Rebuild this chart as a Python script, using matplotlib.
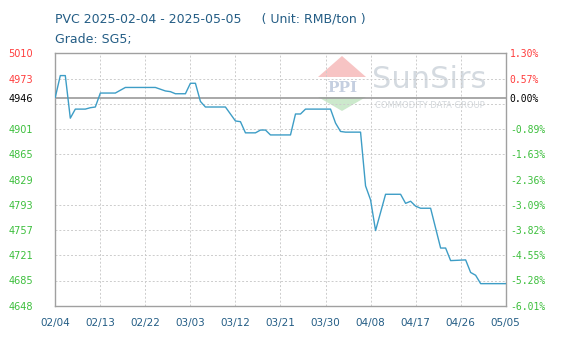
import numpy as np
import matplotlib
matplotlib.use("Agg")
import matplotlib.pyplot as plt
from matplotlib.patches import Polygon

# price series (RMB/ton)
DATES = ["2025-02-04", "2025-02-05", "2025-02-06", "2025-02-07", "2025-02-08",
         "2025-02-10", "2025-02-11", "2025-02-12", "2025-02-13", "2025-02-16",
         "2025-02-18", "2025-02-24", "2025-02-26", "2025-02-27", "2025-02-28",
         "2025-03-02", "2025-03-03", "2025-03-04", "2025-03-05", "2025-03-06",
         "2025-03-10", "2025-03-12", "2025-03-13", "2025-03-14", "2025-03-16",
         "2025-03-17", "2025-03-18", "2025-03-19", "2025-03-23", "2025-03-24",
         "2025-03-25", "2025-03-26", "2025-03-31", "2025-04-01", "2025-04-02",
         "2025-04-03", "2025-04-06", "2025-04-07", "2025-04-08", "2025-04-09",
         "2025-04-11", "2025-04-14", "2025-04-15", "2025-04-16", "2025-04-17",
         "2025-04-18", "2025-04-20", "2025-04-22", "2025-04-23", "2025-04-24",
         "2025-04-27", "2025-04-28", "2025-04-29", "2025-04-30", "2025-05-05"]
PRICES = [4947, 4978, 4978, 4917, 4930,
          4930, 4932, 4933, 4953, 4953,
          4961, 4961, 4956, 4955, 4952,
          4952, 4967, 4967, 4941, 4933,
          4933, 4913, 4912, 4896, 4896,
          4900, 4900, 4893, 4893, 4923,
          4923, 4930, 4930, 4910, 4898,
          4897, 4897, 4820, 4800, 4756,
          4808, 4808, 4795, 4798, 4791,
          4788, 4788, 4731, 4731, 4713,
          4714, 4696, 4692, 4680, 4680]

BASE = 4946
Y_MIN, Y_MAX = 4648, 5010
LEFT_LABELS = ["5010", "4973", "4946", "4901", "4865", "4829",
               "4793", "4757", "4721", "4685", "4648"]
RIGHT_LABELS = ["1.30%", "0.57%", "0.00%", "-0.89%", "-1.63%", "-2.36%",
                "-3.09%", "-3.82%", "-4.55%", "-5.28%", "-6.01%"]
X_TICKS = ["2025-02-04", "2025-02-13", "2025-02-22", "2025-03-03",
           "2025-03-12", "2025-03-21", "2025-03-30", "2025-04-08",
           "2025-04-17", "2025-04-26", "2025-05-05"]
X_LABELS = ["02/04", "02/13", "02/22", "03/03", "03/12", "03/21",
            "03/30", "04/08", "04/17", "04/26", "05/05"]

RED = "#ff3c3c"
GREEN = "#3cbf3c"
BLUE_TXT = "#245d85"
LINE = "#3d9dc6"
EDGE = "#a0a0a0"

dates = np.array(DATES, dtype="datetime64[D]")
xticks = np.array(X_TICKS, dtype="datetime64[D]")

fig = plt.figure(figsize=(5.73, 3.42), dpi=100)
ax = fig.add_axes([0.0965, 0.1053, 0.786, 0.739])

ax.set_xlim(xticks[0], xticks[-1])
ax.set_ylim(Y_MIN, Y_MAX)

# dashed grid, evenly spaced
ax.set_yticks(np.linspace(Y_MIN, Y_MAX, 11), minor=True)
ax.set_xticks(xticks)
ax.set_xticklabels(X_LABELS, fontsize=7.5, color=BLUE_TXT)
ax.grid(True, which="minor", axis="y", ls=(0, (2, 2)), lw=0.7, color="#cccccc")
ax.grid(True, which="major", axis="x", ls=(0, (2, 2)), lw=0.7, color="#cccccc")
ax.tick_params(axis="x", length=0, pad=9)
ax.tick_params(axis="y", which="both", length=0)

yt = [float(v) for v in LEFT_LABELS]
ax.set_yticks(yt)
ax.set_yticklabels(LEFT_LABELS, fontsize=7)
ax.tick_params(axis="y", pad=16)

def colour_for(v):
    if v > BASE:
        return RED
    if v < BASE:
        return GREEN
    return "black"

for lab, v in zip(ax.get_yticklabels(), yt):
    lab.set_color(colour_for(v))

for sp in ax.spines.values():
    sp.set_color(EDGE)
    sp.set_linewidth(1.0)

ax2 = ax.twinx()
ax2.set_ylim(Y_MIN, Y_MAX)
ax2.set_yticks(yt)
ax2.set_yticklabels(RIGHT_LABELS, fontsize=7, family="DejaVu Sans Mono")
ax2.tick_params(axis="y", length=0, pad=3)
for lab, v in zip(ax2.get_yticklabels(), yt):
    lab.set_color(colour_for(v))
for sp in ax2.spines.values():
    sp.set_visible(False)

# watermark (kept under grid and line)
wm = dict(transform=fig.transFigure, zorder=0.5)
def fx(px):
    return px / 573.0
def fy(py):
    return 1 - py / 342.0
ax.add_patch(Polygon([(fx(318), fy(77)), (fx(342), fy(56)), (fx(366), fy(77))],
                     closed=True, color="#f08a8a", alpha=0.5, lw=0, **wm))
ax.add_patch(Polygon([(fx(318), fy(97)), (fx(366), fy(97)), (fx(342), fy(111))],
                     closed=True, color="#8fd08f", alpha=0.45, lw=0, **wm))
ax.text(fx(342), fy(88), "PPI", ha="center", va="center", fontsize=11,
        color="#9fb0cc", alpha=0.6, family="DejaVu Serif", fontweight="bold", **wm)
ax.text(fx(372), fy(80), "SunSirs", ha="left", va="center", fontsize=22,
        color="#b8c2cc", alpha=0.6, **wm)
ax.text(fx(430), fy(106), "COMMODITY DATA GROUP", ha="center", va="center",
        fontsize=6, color="#c0c6cc", alpha=0.7, **wm)

ax.axhline(BASE, color="#999999", lw=1.2, zorder=2)
ax.plot(dates, PRICES, color=LINE, lw=1.0, zorder=3)

fig.text(fx(55), fy(19), "PVC 2025-02-04 - 2025-05-05     ( Unit: RMB/ton )",
         fontsize=9, color=BLUE_TXT, va="center", ha="left")
fig.text(fx(55), fy(40), "Grade: SG5;", fontsize=9, color=BLUE_TXT,
         va="center", ha="left")

fig.savefig("out.png", dpi=100)
